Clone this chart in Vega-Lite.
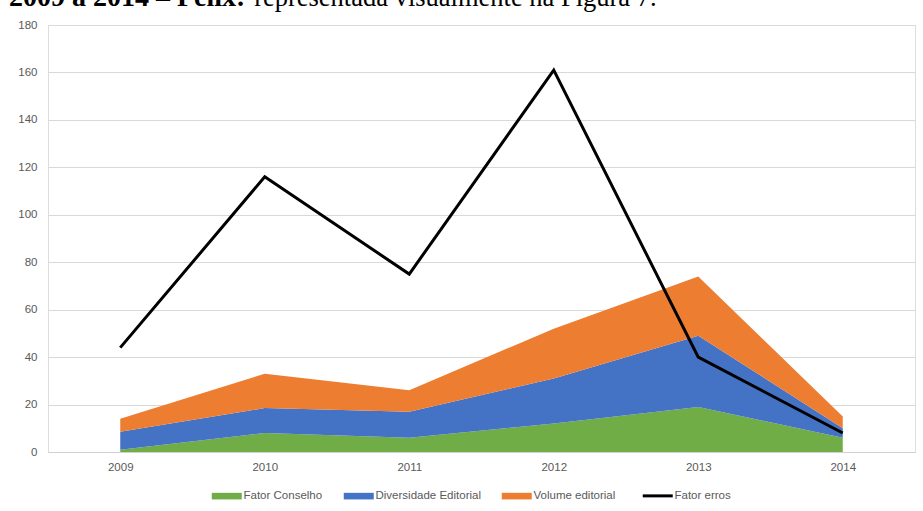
{
  "$schema": "https://vega.github.io/schema/vega-lite/v6.json",
  "width": 867,
  "height": 427,
  "autosize": "none",
  "padding": {"left": 48, "top": 25, "right": 8, "bottom": 59},
  "background": "white",
  "title": {
    "text": "2009 a 2014 – Pelix:",
    "subtitle": "\u200b\u00a0\u00a0\u00a0\u00a0\u00a0\u00a0\u00a0\u00a0\u00a0\u00a0\u00a0\u00a0\u00a0\u00a0\u00a0\u00a0\u00a0\u00a0\u00a0\u00a0\u00a0\u00a0\u00a0\u00a0\u00a0\u00a0\u00a0\u00a0\u00a0\u00a0\u00a0\u00a0\u00a0\u00a0\u00a0\u00a0\u00a0representada visualmente na Figura 7.",
    "font": "Liberation Serif",
    "fontSize": 28,
    "fontWeight": "bold",
    "color": "#000000",
    "subtitleFont": "Liberation Serif",
    "subtitleFontSize": 26.5,
    "subtitleFontWeight": "normal",
    "subtitleColor": "#000000",
    "subtitlePadding": -28,
    "anchor": "start",
    "frame": "group",
    "baseline": "alphabetic",
    "offset": 0,
    "dx": -39,
    "dy": 15
  },
  "data": {
    "values": [
      {"ano": "2009", "serie": "Fator Conselho", "valor": 1},
      {"ano": "2010", "serie": "Fator Conselho", "valor": 8},
      {"ano": "2011", "serie": "Fator Conselho", "valor": 6},
      {"ano": "2012", "serie": "Fator Conselho", "valor": 12},
      {"ano": "2013", "serie": "Fator Conselho", "valor": 19},
      {"ano": "2014", "serie": "Fator Conselho", "valor": 6},
      {"ano": "2009", "serie": "Diversidade Editorial", "valor": 7.5},
      {"ano": "2010", "serie": "Diversidade Editorial", "valor": 10.5},
      {"ano": "2011", "serie": "Diversidade Editorial", "valor": 11},
      {"ano": "2012", "serie": "Diversidade Editorial", "valor": 19},
      {"ano": "2013", "serie": "Diversidade Editorial", "valor": 30},
      {"ano": "2014", "serie": "Diversidade Editorial", "valor": 4},
      {"ano": "2009", "serie": "Volume editorial", "valor": 5.5},
      {"ano": "2010", "serie": "Volume editorial", "valor": 14.5},
      {"ano": "2011", "serie": "Volume editorial", "valor": 9},
      {"ano": "2012", "serie": "Volume editorial", "valor": 21},
      {"ano": "2013", "serie": "Volume editorial", "valor": 25},
      {"ano": "2014", "serie": "Volume editorial", "valor": 5},
      {"ano": "2009", "serie": "Fator erros", "valor": 44},
      {"ano": "2010", "serie": "Fator erros", "valor": 116},
      {"ano": "2011", "serie": "Fator erros", "valor": 75},
      {"ano": "2012", "serie": "Fator erros", "valor": 161},
      {"ano": "2013", "serie": "Fator erros", "valor": 40},
      {"ano": "2014", "serie": "Fator erros", "valor": 8}
    ]
  },
  "encoding": {
    "x": {
      "field": "ano",
      "type": "ordinal",
      "scale": {"type": "point", "padding": 0.5},
      "axis": {
        "title": null,
        "labelAngle": 0,
        "labelFont": "Liberation Sans",
        "labelFontSize": 11.5,
        "labelColor": "#595959",
        "labelPadding": 9,
        "domainColor": "#D0D0D0",
        "ticks": false,
        "grid": false
      }
    }
  },
  "layer": [
    {
      "transform": [
        {"filter": "datum.serie !== 'Fator erros'"},
        {"calculate": "indexof(['Fator Conselho','Diversidade Editorial','Volume editorial'], datum.serie)", "as": "camada"}
      ],
      "mark": {"type": "area", "opacity": 1},
      "encoding": {
        "y": {
          "field": "valor",
          "type": "quantitative",
          "stack": "zero",
          "scale": {"domain": [0, 180], "nice": false},
          "axis": {
            "title": null,
            "values": [0, 20, 40, 60, 80, 100, 120, 140, 160, 180],
            "labelFont": "Liberation Sans",
            "labelFontSize": 11.5,
            "labelColor": "#595959",
            "labelPadding": 11,
            "domain": false,
            "ticks": false,
            "gridColor": "#D9D9D9",
            "gridWidth": 1
          }
        },
        "order": {"field": "camada", "type": "quantitative", "sort": "ascending"},
        "color": {
          "field": "serie",
          "type": "nominal",
          "scale": {
            "domain": ["Fator Conselho", "Diversidade Editorial", "Volume editorial", "Fator erros"],
            "range": ["#70AD47", "#4472C4", "#ED7D31", "#000000"]
          },
          "legend": {
            "title": null,
            "orient": "none",
            "direction": "horizontal",
            "legendX": 173,
            "legendY": 465,
            "labelFont": "Liberation Sans",
            "labelFontSize": 11.5,
            "labelColor": "#595959",
            "labelOffset": 11,
            "columnPadding": 20,
            "symbolSize": 900,
            "symbolOpacity": 1,
            "encode": {
              "symbols": {
                "update": {
                  "shape": {"signal": "datum.value === 'Fator erros' ? 'M-1,0H1' : 'M-1,-0.22H1V0.22H-1Z'"},
                  "fill": {"signal": "datum.value === 'Fator erros' ? 'transparent' : scale('color', datum.value)"},
                  "stroke": {"signal": "datum.value === 'Fator erros' ? '#000000' : 'transparent'"},
                  "strokeWidth": {"signal": "datum.value === 'Fator erros' ? 3 : 0"},
                  "opacity": {"value": 1}
                }
              }
            }
          }
        }
      }
    },
    {
      "transform": [{"filter": "datum.serie === 'Fator erros'"}],
      "mark": {"type": "line", "strokeWidth": 3, "strokeJoin": "miter"},
      "encoding": {
        "y": {"field": "valor", "type": "quantitative"},
        "color": {"field": "serie", "type": "nominal"}
      }
    }
  ]
}
